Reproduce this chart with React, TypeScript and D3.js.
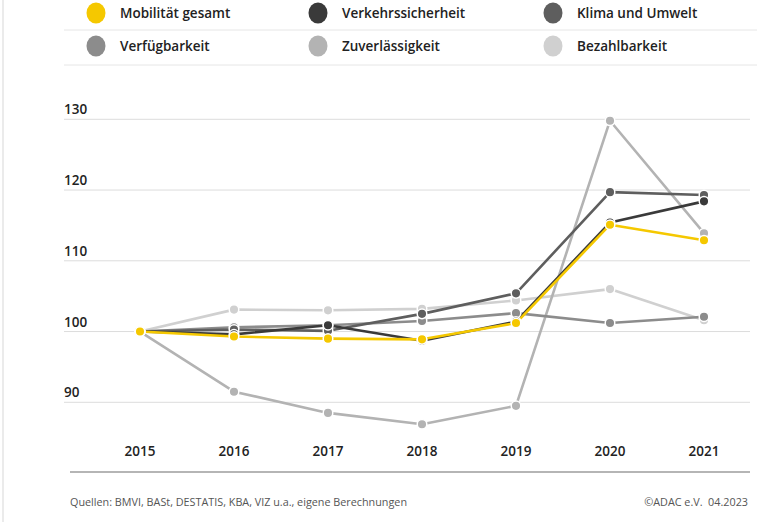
import { useMemo } from "react";
import * as d3 from "d3";

const WIDTH = 768;
const HEIGHT = 522;
const FONT = "'Open Sans', 'DejaVu Sans', sans-serif";

const YEARS = ["2015", "2016", "2017", "2018", "2019", "2020", "2021"];
const Y_TICKS = [90, 100, 110, 120, 130];

const MOBILITAET = [100, 99.3, 99.0, 98.9, 101.2, 115.1, 112.9];
const VERKEHRSSICHERHEIT = [100, 99.6, 100.9, 98.7, 101.4, 115.4, 118.4];
const KLIMA = [100, 100.3, 100.1, 102.5, 105.4, 119.7, 119.3];
const VERFUEGBARKEIT = [100, 100.6, 100.9, 101.5, 102.6, 101.2, 102.1];
const ZUVERLAESSIGKEIT = [100, 91.5, 88.5, 86.9, 89.5, 129.8, 113.9];
const BEZAHLBARKEIT = [100, 103.1, 103.0, 103.2, 104.4, 106.0, 101.6];

const SERIES = [
  { name: "Mobilität gesamt", values: MOBILITAET, color: "#f5c800" },
  { name: "Verkehrssicherheit", values: VERKEHRSSICHERHEIT, color: "#3a3a3a" },
  { name: "Klima und Umwelt", values: KLIMA, color: "#5e5e5e" },
  { name: "Verfügbarkeit", values: VERFUEGBARKEIT, color: "#8c8c8c" },
  { name: "Zuverlässigkeit", values: ZUVERLAESSIGKEIT, color: "#b3b3b3" },
  { name: "Bezahlbarkeit", values: BEZAHLBARKEIT, color: "#d0d0d0" },
];

// legend: 3 columns, 2 rows
const LEGEND_COLS = [96, 318, 553];
const LEGEND_ROWS = [13, 46];

export default function App() {
  const x = useMemo(
    () => d3.scalePoint<string>().domain(YEARS).range([140, 704]),
    []
  );
  const y = useMemo(
    () => d3.scaleLinear().domain([90, 130]).range([402.3, 119.3]),
    []
  );

  const line = d3
    .line<number>()
    .x((_, i) => x(YEARS[i]) ?? 0)
    .y((d) => y(d));

  // draw lightest first so the yellow total ends up on top
  const drawOrder = [...SERIES].reverse();

  return (
    <svg
      width={WIDTH}
      height={HEIGHT}
      style={{ position: "absolute", left: 0, top: 0, background: "#fff" }}
      fontFamily={FONT}
    >
      <line x1={3} x2={3} y1={0} y2={HEIGHT} stroke="#e4e4e4" strokeWidth={1.5} />

      {/* legend */}
      <line x1={64} x2={757} y1={30} y2={30} stroke="#e6e6e6" />
      <line x1={64} x2={757} y1={65} y2={65} stroke="#e6e6e6" />
      {SERIES.map((s, i) => {
        const cx = LEGEND_COLS[i % 3];
        const cy = LEGEND_ROWS[Math.floor(i / 3)];
        return (
          <g key={s.name}>
            <ellipse cx={cx} cy={cy} rx={9.5} ry={10.5} fill={s.color} />
            <text
              x={cx + 24}
              y={cy}
              dominantBaseline="central"
              fontSize={13.5}
              fontWeight={600}
              fill="#222"
            >
              {s.name}
            </text>
          </g>
        );
      })}

      {/* grid */}
      {Y_TICKS.map((t) => (
        <g key={t}>
          <line x1={64} x2={750} y1={y(t)} y2={y(t)} stroke="#dcdcdc" />
          <text x={64} y={y(t) - 5} fontSize={13.5} fontWeight={600} fill="#222">
            {t}
          </text>
        </g>
      ))}

      {/* lines */}
      {drawOrder.map((s) => (
        <path
          key={s.name}
          d={line(s.values) ?? ""}
          fill="none"
          stroke={s.color}
          strokeWidth={2.6}
          strokeLinejoin="round"
        />
      ))}
      {drawOrder.map((s) =>
        s.values.map((v, i) => (
          <circle
            key={s.name + i}
            cx={x(YEARS[i])}
            cy={y(v)}
            r={4.8}
            fill={s.color}
            stroke="#fff"
            strokeWidth={1.5}
          />
        ))
      )}

      {/* x axis */}
      {YEARS.map((yr) => (
        <text
          key={yr}
          x={x(yr)}
          y={451}
          textAnchor="middle"
          dominantBaseline="central"
          fontSize={13.5}
          fontWeight={600}
          fill="#222"
        >
          {yr}
        </text>
      ))}
      <line x1={70} x2={750} y1={472} y2={472} stroke="#b5b5b5" strokeWidth={2} />

      {/* footer */}
      <text x={70} y={501} dominantBaseline="central" fontSize={10.8} fill="#555">
        Quellen: BMVI, BASt, DESTATIS, KBA, VIZ u.a., eigene Berechnungen
      </text>
      <text
        x={748}
        y={501}
        textAnchor="end"
        dominantBaseline="central"
        fontSize={10.8}
        fill="#555"
        style={{ whiteSpace: "pre" }}
      >
        {"©ADAC e.V.  04.2023"}
      </text>
    </svg>
  );
}
